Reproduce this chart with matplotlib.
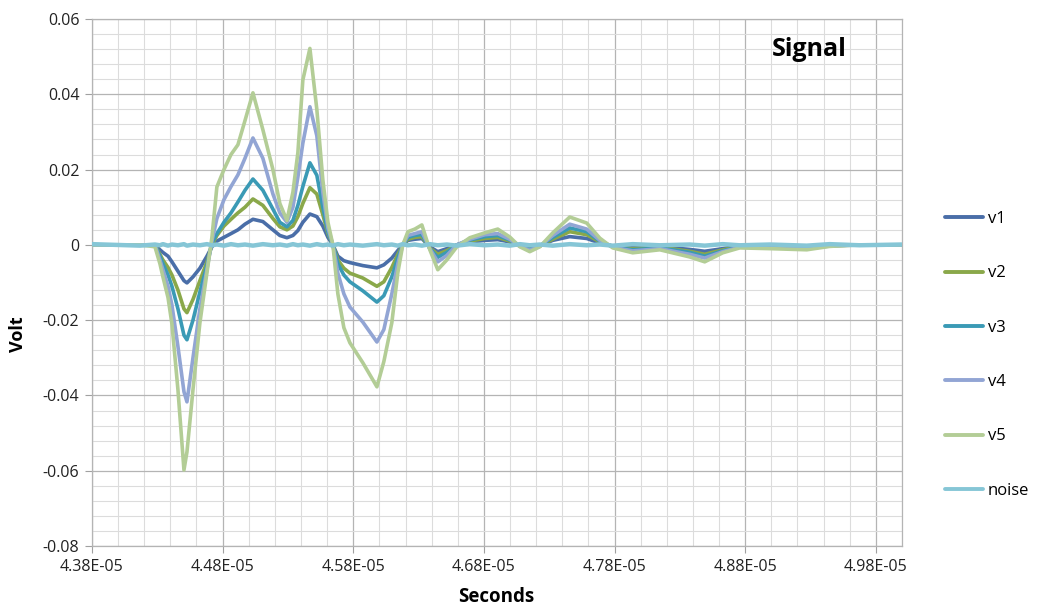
import matplotlib

matplotlib.use("Agg")

import matplotlib.pyplot as plt
from matplotlib.ticker import FixedLocator, FuncFormatter, MultipleLocator

plt.rcParams["font.family"] = ["Open Sans", "DejaVu Sans"]

# time samples (seconds)
time_s = [
    4.3800e-5, 4.4167e-5, 4.4282e-5, 4.4320e-5, 4.4343e-5, 4.4382e-5, 4.4412e-5,
    4.4458e-5, 4.4504e-5, 4.4527e-5, 4.4573e-5, 4.4626e-5, 4.4680e-5, 4.4718e-5,
    4.4756e-5, 4.4810e-5, 4.4864e-5, 4.4917e-5, 4.4971e-5, 4.5032e-5, 4.5108e-5,
    4.5185e-5, 4.5238e-5, 4.5292e-5, 4.5338e-5, 4.5376e-5, 4.5414e-5, 4.5468e-5,
    4.5521e-5, 4.5567e-5, 4.5606e-5, 4.5644e-5, 4.5682e-5, 4.5728e-5, 4.5774e-5,
    4.5873e-5, 4.5981e-5, 4.6034e-5, 4.6095e-5, 4.6141e-5, 4.6179e-5, 4.6218e-5,
    4.6271e-5, 4.6325e-5, 4.6386e-5, 4.6447e-5, 4.6516e-5, 4.6593e-5, 4.6692e-5,
    4.6807e-5, 4.6906e-5, 4.6998e-5, 4.7075e-5, 4.7151e-5, 4.7228e-5, 4.7327e-5,
    4.7457e-5, 4.7587e-5, 4.7687e-5, 4.7786e-5, 4.7939e-5, 4.8146e-5, 4.8375e-5,
    4.8490e-5, 4.8628e-5, 4.8758e-5, 4.8988e-5, 4.9271e-5, 4.9446e-5, 4.9676e-5,
    4.9997e-5,
]

v1 = [
    0, 0, 0, -0.0013, -0.002, -0.003, -0.0045,
    -0.007, -0.0095, -0.0101, -0.0085, -0.0062, -0.003, -0.0005,
    0.001, 0.002, 0.003, 0.004, 0.0055, 0.0068, 0.0062,
    0.004, 0.0025, 0.0019, 0.0025, 0.0038, 0.006, 0.0082,
    0.0075, 0.005, 0.002, 0, -0.003, -0.0042, -0.0047,
    -0.0055, -0.0061, -0.0053, -0.0035, -0.0015, 0, 0.0012,
    0.0015, 0.0017, -0.0005, -0.0018, -0.001, 0, 0.0008,
    0.0012, 0.0014, 0.0008, -0.0002, -0.0008, -0.0002, 0.0012,
    0.0022, 0.0017, 0.0005, -0.0003, -0.0008, -0.0005, -0.0012,
    -0.0017, -0.001, -0.0003, -0.0003, -0.0004, -0.0001, 0,
    0,
]

v2 = [
    0, 0, 0, -0.0025, -0.004, -0.006, -0.008,
    -0.012, -0.017, -0.018, -0.0145, -0.0095, -0.0045, 0,
    0.0025, 0.005, 0.0068, 0.0085, 0.010, 0.0122, 0.0105,
    0.007, 0.0048, 0.004, 0.005, 0.0075, 0.011, 0.0152,
    0.0135, 0.008, 0.003, 0, -0.004, -0.0062, -0.0075,
    -0.0088, -0.011, -0.0098, -0.006, -0.0025, 0, 0.0015,
    0.002, 0.0022, -0.0008, -0.0025, -0.0015, 0, 0.001,
    0.0017, 0.002, 0.001, -0.0003, -0.001, -0.0003, 0.0015,
    0.0035, 0.0027, 0.0008, -0.0004, -0.001, -0.0006, -0.0017,
    -0.0025, -0.0013, -0.0004, -0.0005, -0.0006, -0.0002, 0,
    0,
]

v3 = [
    0, 0, 0, -0.003, -0.005, -0.008, -0.011,
    -0.017, -0.024, -0.0252, -0.020, -0.0125, -0.0055, 0.0005,
    0.003, 0.006, 0.0085, 0.0114, 0.0145, 0.0175, 0.0145,
    0.0095, 0.006, 0.0048, 0.0065, 0.0105, 0.0155, 0.0218,
    0.0185, 0.010, 0.0035, 0, -0.005, -0.008, -0.0098,
    -0.0122, -0.0152, -0.0135, -0.0085, -0.0035, 0, 0.002,
    0.0025, 0.0028, -0.001, -0.0033, -0.002, 0, 0.0013,
    0.0022, 0.0025, 0.0013, -0.0003, -0.0012, -0.0003, 0.002,
    0.0045, 0.0035, 0.001, -0.0005, -0.0013, -0.0008, -0.002,
    -0.003, -0.0016, -0.0005, -0.0006, -0.0008, -0.0002, 0,
    0,
]

v4 = [
    0, 0, 0, -0.004, -0.0066, -0.011, -0.016,
    -0.027, -0.039, -0.0417, -0.030, -0.017, -0.0065, 0.001,
    0.007, 0.012, 0.0155, 0.0186, 0.023, 0.0284, 0.023,
    0.0135, 0.0085, 0.006, 0.010, 0.018, 0.027, 0.0367,
    0.029, 0.014, 0.0045, 0, -0.0075, -0.013, -0.0165,
    -0.0205, -0.0258, -0.0225, -0.013, -0.005, 0, 0.0025,
    0.003, 0.0035, -0.001, -0.0045, -0.0028, 0, 0.0015,
    0.0027, 0.003, 0.0015, -0.0004, -0.0014, -0.0004, 0.0025,
    0.0055, 0.0042, 0.0012, -0.0006, -0.0016, -0.001, -0.0025,
    -0.0035, -0.0018, -0.0006, -0.0008, -0.001, -0.0003, 0,
    0,
]

v5 = [
    0, 0, -0.0005, -0.005, -0.0085, -0.014, -0.021,
    -0.0385, -0.0598, -0.055, -0.0385, -0.0207, -0.0074, 0.002,
    0.0154, 0.020, 0.024, 0.0266, 0.033, 0.0404, 0.0306,
    0.020, 0.011, 0.0065, 0.014, 0.0245, 0.0438, 0.0522,
    0.036, 0.0173, 0.006, 0, -0.013, -0.022, -0.026,
    -0.0313, -0.0377, -0.031, -0.0207, -0.0074, 0, 0.0035,
    0.0042, 0.0053, -0.0013, -0.0066, -0.004, -0.0005, 0.0019,
    0.0032, 0.0042, 0.0021, -0.0005, -0.0018, -0.0005, 0.0032,
    0.0074, 0.0058, 0.0018, -0.0008, -0.0021, -0.0013, -0.0032,
    -0.0045, -0.0021, -0.0008, -0.001, -0.0013, -0.0004, 0,
    0,
]

noise = [
    0.0002, -0.0002, 0.0001, -0.0001, 0.0002, -0.0002, 0.0001,
    -0.0001, 0.0002, -0.0002, 0.0001, -0.0001, 0.0002, -0.0001,
    0.0001, -0.0002, 0.0002, -0.0001, 0.0001, -0.0002, 0.0002,
    -0.0001, 0.0001, -0.0002, 0.0002, -0.0001, 0.0001, -0.0002,
    0.0002, -0.0001, 0.0001, -0.0002, 0.0002, -0.0001, 0.0001,
    -0.0002, 0.0002, -0.0001, 0.0001, -0.0002, 0.0002, -0.0001,
    0.0001, -0.0002, 0.0002, -0.0001, 0.0001, -0.0002, 0.0002,
    -0.0001, 0.0001, -0.0002, 0.0002, -0.0001, 0.0001, -0.0002,
    0.0002, -0.0001, 0.0001, -0.0002, 0.0002, -0.0001, 0.0001,
    -0.0002, 0.0002, -0.0001, 0.0001, -0.0002, 0.0002, -0.0001,
    0.0001,
]

series_names = ["v1", "v2", "v3", "v4", "v5", "noise"]
series_colors = ["#4A6EA8", "#8AA84A", "#3A9AB5", "#92A5D4", "#B3CD96", "#86C6D6"]
series_widths = [2.6, 2.6, 2.6, 2.6, 2.6, 3.2]

x_ticks = [4.38e-5, 4.48e-5, 4.58e-5, 4.68e-5, 4.78e-5, 4.88e-5, 4.98e-5]


def main() -> None:
    fig = plt.figure(figsize=(10.37, 6.14), dpi=100)
    ax = fig.add_axes([0.0887, 0.1107, 0.7811, 0.8583])

    all_series = [v1, v2, v3, v4, v5, noise]
    for values, name, color, lw in zip(all_series, series_names, series_colors, series_widths):
        ax.plot(time_s, values, color=color, lw=lw, label=name,
                solid_joinstyle="round", solid_capstyle="round", zorder=3)

    ax.set_xlim(4.38e-5, 5.0e-5)
    ax.set_ylim(-0.08, 0.06)

    ax.xaxis.set_major_locator(FixedLocator(x_ticks))
    ax.xaxis.set_minor_locator(MultipleLocator(2e-7))
    ax.xaxis.set_major_formatter(FuncFormatter(lambda v, _: f"{v:.2E}"))
    ax.yaxis.set_major_locator(MultipleLocator(0.02))
    ax.yaxis.set_minor_locator(MultipleLocator(0.004))
    ax.yaxis.set_major_formatter(FuncFormatter(lambda v, _: f"{round(v, 2) + 0.0:g}"))

    ax.grid(which="major", color="#B4B4B4", lw=0.9, zorder=0)
    ax.grid(which="minor", color="#DCDCDC", lw=0.8, zorder=0)
    ax.set_axisbelow(True)

    for spine in ax.spines.values():
        spine.set_color("#B4B4B4")
        spine.set_linewidth(0.9)
    ax.tick_params(which="major", length=5, color="#A0A0A0", labelsize=11.5,
                   labelcolor="#222222", pad=4)
    ax.tick_params(which="minor", length=0)

    fig.text(0.017, 0.456, "Volt", rotation=90, ha="center", va="center",
             fontsize=13, fontweight="bold")
    fig.text(0.479, 0.027, "Seconds", ha="center", va="center",
             fontsize=13.5, fontweight="bold")
    ax.text(0.885, 0.943, "Signal", transform=ax.transAxes, ha="center", va="center",
            fontsize=18, fontweight="bold")

    leg = fig.legend(loc="upper left", bbox_to_anchor=(0.905, 0.667), frameon=False,
                     fontsize=12, labelspacing=2.3, handlelength=2.3,
                     handletextpad=0.25, borderaxespad=0)
    for line in leg.get_lines():
        line.set_linewidth(2.8)

    fig.savefig("out.png", dpi=100)
    plt.close(fig)


if __name__ == "__main__":
    main()
